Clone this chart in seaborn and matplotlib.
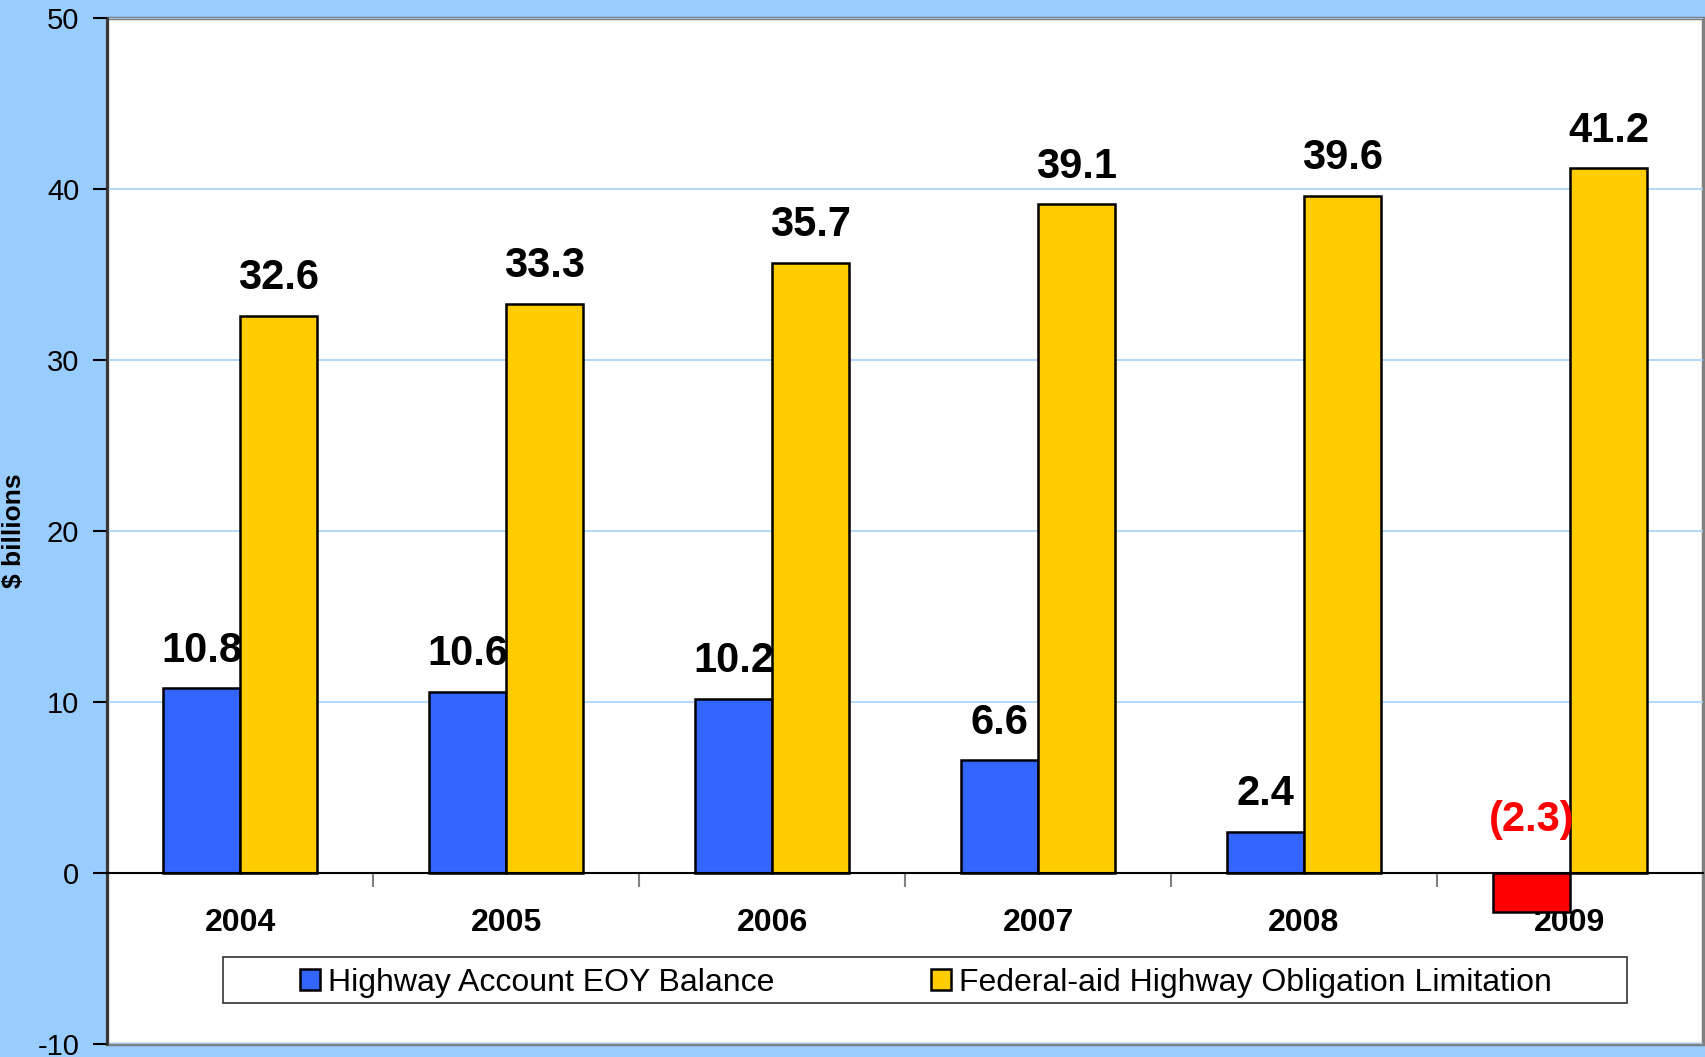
import matplotlib
matplotlib.use("Agg")
import matplotlib.pyplot as plt
from matplotlib.patches import Patch, Rectangle
import seaborn as sns
import pandas as pd

# DATA
years = ["2004", "2005", "2006", "2007", "2008", "2009"]
balance = [10.8, 10.6, 10.2, 6.6, 2.4, -2.3]
limitation = [32.6, 33.3, 35.7, 39.1, 39.6, 41.2]
series_names = ["Highway Account EOY Balance", "Federal-aid Highway Obligation Limitation"]
y_ticks = [-10, 0, 10, 20, 30, 40, 50]

# COLORS
BG = "#99CCFF"
BLUE = "#3366FF"
YELLOW = "#FFCC00"
RED = "#FF0000"

sns.set_theme(style="white")
plt.rcParams["font.family"] = ["Liberation Sans", "DejaVu Sans"]
plt.rcParams["axes.unicode_minus"] = False
plt.rcParams["text.color"] = "black"
plt.rcParams["axes.labelcolor"] = "black"
plt.rcParams["xtick.color"] = "black"
plt.rcParams["ytick.color"] = "black"

df = pd.DataFrame({
    "year": years * 2,
    "value": balance + limitation,
    "series": [series_names[0]] * len(years) + [series_names[1]] * len(years),
})

fig = plt.figure(figsize=(17.05, 10.57), dpi=100, facecolor=BG)
ax = fig.add_axes([0.0628, 0.0123, 0.936, 0.9707])

sns.barplot(data=df, x="year", y="value", hue="series", order=years,
            hue_order=series_names, palette=[BLUE, YELLOW], width=0.58,
            edgecolor="black", linewidth=1.8, saturation=1, legend=False, ax=ax)

# negative balance in red
for bar, v in zip(ax.containers[0], balance):
    if v < 0:
        bar.set_facecolor(RED)

# value labels
for cont, vals in zip(ax.containers, [balance, limitation]):
    for bar, v in zip(cont, vals):
        x = bar.get_x() + bar.get_width() / 2
        if v < 0:
            txt, col, off = f"({abs(v):.1f})", RED, 38
        else:
            txt, col, off = f"{v:.1f}", "black", 27
        ax.annotate(txt, (x, max(v, 0)), xytext=(0, off), textcoords="offset points",
                    ha="center", va="center", fontsize=30, fontweight="bold", color=col)

ax.set_ylim(-10, 50)
ax.set_xlim(-0.5, len(years) - 0.5)
ax.set_yticks(y_ticks)
ax.set_facecolor("white")
ax.patch.set_edgecolor("#808080")
ax.patch.set_linewidth(2.5)

ax.yaxis.grid(True, color="#A6D2FF", linewidth=1.2)
ax.set_axisbelow(True)

for s in ["top", "right"]:
    ax.spines[s].set_visible(False)
ax.spines["left"].set_color("#333333")
ax.spines["left"].set_linewidth(2)
ax.spines["bottom"].set_position(("data", 0))
ax.spines["bottom"].set_color("black")
ax.spines["bottom"].set_linewidth(1.5)
ax.spines["bottom"].set_zorder(3)

ax.tick_params(axis="y", left=True, length=10, width=1.5, color="black", pad=10,
               labelsize=21, labelcolor="black")

ax.set_xticks([i - 0.5 for i in range(1, len(years))], minor=True)
ax.tick_params(axis="x", which="major", length=0, pad=25, labelsize=23,
               labelcolor="black")
ax.tick_params(axis="x", which="minor", bottom=True, length=10, width=1.5,
               color="#808080", direction="out")
for lab in ax.get_xticklabels():
    lab.set_fontweight("bold")

ax.set_xlabel("")
ax.set_ylabel("$ billions", fontsize=19, fontweight="bold", color="black")
ax.yaxis.set_label_coords(-0.0507, 0.5)

# legend box and entries
ax.add_patch(Rectangle((0.0727, 0.040), 0.880, 0.0448, transform=ax.transAxes,
                       facecolor="white", edgecolor="#333333", linewidth=1.2, zorder=4))
handles = [Patch(facecolor=BLUE, edgecolor="black", linewidth=1.8),
           Patch(facecolor=YELLOW, edgecolor="black", linewidth=1.8)]
leg = ax.legend(handles, series_names, ncol=2, loc="center",
                bbox_to_anchor=(0.513, 0.0595), frameon=False,
                handlelength=0.62, handleheight=0.62, handletextpad=0.25,
                columnspacing=4.9, borderpad=0.1, fontsize=23, labelcolor="black")
leg.set_zorder(5)

fig.savefig("out.png", dpi=100, facecolor=BG)
